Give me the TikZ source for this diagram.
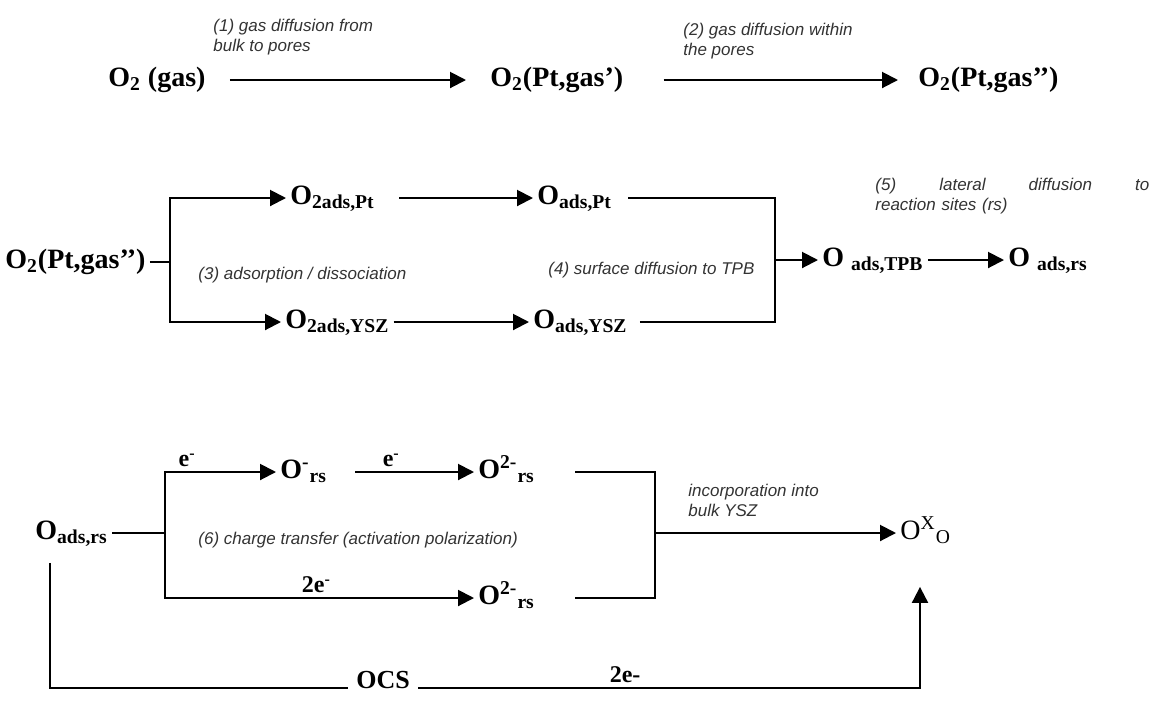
\documentclass[tikz,border=0pt]{standalone}
\usepackage{fontspec}
\setmainfont{Liberation Serif}
\setsansfont{Liberation Sans}
\usetikzlibrary{positioning,arrows.meta}
\tikzset{
    oxspecies/.style={font=\fontsize{14}{16}\selectfont\bfseries, inner sep=2pt, text height=10pt, text depth=3.5pt, anchor=west},
    oxnote/.style={font=\fontsize{8.5}{10}\selectfont\sffamily\itshape, text=black!80, align=left, inner sep=0pt, anchor=west},
    oxelec/.style={font=\fontsize{12}{14}\selectfont\bfseries, inner sep=2pt},
    oxpath/.style={font=\fontsize{13}{15}\selectfont\bfseries, fill=white, inner xsep=4pt, inner ysep=1pt, yshift=4pt},
    oxarrow/.style={draw, line width=1pt, -{Triangle[length=8pt,width=8pt]}},
    oxline/.style={draw, line width=1pt}
}

\begin{document}
\begin{tikzpicture}[x=0.5pt, y=-0.5pt]
    \useasboundingbox (0,0) rectangle (1151,703);

    % gas phase
    \node[oxspecies] (gasbulk) at (104,80) {O\textsubscript{2} (gas)};
    \node[oxspecies] (gaspore) at (486,80) {O\textsubscript{2}(Pt,gas’)};
    \node[oxspecies] (gasin) at (914,80) {O\textsubscript{2}(Pt,gas’’)};
    \node[oxnote] (stepone) at (213,37) {(1) gas diffusion from\\bulk to pores};
    \node[oxnote] (steptwo) at (683,41) {(2) gas diffusion within\\the pores};

    \draw[oxarrow, shorten <=10pt, shorten >=10pt] (gasbulk) -- (gaspore);
    \draw[oxarrow, shorten <=18pt, shorten >=8pt] (gaspore) -- (gasin);

    % adsorption and surface diffusion
    \node[oxspecies] (gaspt) at (1,262) {O\textsubscript{2}(Pt,gas’’)};
    \coordinate (splitads) at (170,262);
    \node[oxspecies] (otwopt) at (286,198) {O\textsubscript{2ads,Pt}};
    \node[oxspecies] (otwoysz) at (281,322) {O\textsubscript{2ads,YSZ}};
    \node[oxspecies] (opt) at (533,198) {O\textsubscript{ads,Pt}};
    \node[oxspecies] (oysz) at (529,322) {O\textsubscript{ads,YSZ}};
    \coordinate (jointpb) at (775,260);
    \node[oxspecies] (otpb) at (818,260) {O \textsubscript{ads,TPB}};
    \node[oxspecies] (ors) at (1004,260) {O \textsubscript{ads,rs}};
    \node[oxnote] (stepthree) at (198,275) {(3) adsorption / dissociation};
    \node[oxnote] (stepfour) at (548,270) {(4) surface diffusion to TPB};
    \node[oxnote, text width=137pt] (stepfive) at (875,196) {(5)\hfill lateral\hfill diffusion\hfill to\\reaction sites (rs)};

    \draw[oxline] (gaspt) -- (splitads);
    \draw[oxarrow] (splitads) |- (otwopt);
    \draw[oxarrow] (splitads) |- (otwoysz);
    \draw[oxarrow, shorten <=10pt] (otwopt) -- (opt);
    \draw[oxarrow] (otwoysz) -- (oysz);
    \draw[oxline, shorten <=6pt] (opt) -| (jointpb);
    \draw[oxline, shorten <=4pt] (oysz) -| (jointpb);
    \draw[oxarrow] (jointpb) -- (otpb);
    \draw[oxarrow] (otpb) -- (ors);

    % charge transfer and incorporation
    \node[oxspecies] (oadsrs) at (31,533) {O\textsubscript{ads,rs}};
    \coordinate (splitct) at (165,533);
    \node[oxspecies] (omin) at (276,472) {O\textsuperscript{-}\textsubscript{rs}};
    \node[oxspecies] (otwomin) at (474,472) {O\textsuperscript{2-}\textsubscript{rs}};
    \node[oxspecies] (otwominb) at (474,598) {O\textsuperscript{2-}\textsubscript{rs}};
    \coordinate (joinct) at (655,533);
    \node[oxspecies] (obulk) at (896,533) {\mdseries O\textsuperscript{X}\textsubscript{O}};
    \node[oxnote] (stepsix) at (198,540) {(6) charge transfer (activation polarization)};
    \node[oxnote] (stepseven) at (688,500) {incorporation into\\bulk YSZ};

    \draw[oxline] (oadsrs) -- (splitct);
    \draw[oxarrow] (splitct) |- node[oxelec, above, pos=0.6] (eone) {e\textsuperscript{-}} (omin);
    \draw[oxarrow, shorten <=12pt] (omin) -- node[oxelec, above, pos=0.42] (etwo) {e\textsuperscript{-}} (otwomin);
    \draw[oxarrow] (splitct) |- node[oxelec, above, pos=0.745] (ethree) {2e\textsuperscript{-}} (otwominb);
    \draw[oxline, shorten <=18pt] (otwomin) -| (joinct);
    \draw[oxline, shorten <=18pt] (otwominb) -| (joinct);
    \draw[oxarrow] (joinct) -- (obulk);

    % open circuit path
    \coordinate (ocsleft) at (50,688);
    \coordinate (ocsright) at (920,688);
    \draw[oxarrow, shorten <=6pt, shorten >=18pt] (oadsrs.south -| ocsleft) -- (ocsleft)
        -- node[oxpath, pos=0.383] (ocs) {OCS} node[oxelec, above, pos=0.661] (efour) {2e-} (ocsright)
        -- (ocsright |- obulk.south);
\end{tikzpicture}
\end{document}
